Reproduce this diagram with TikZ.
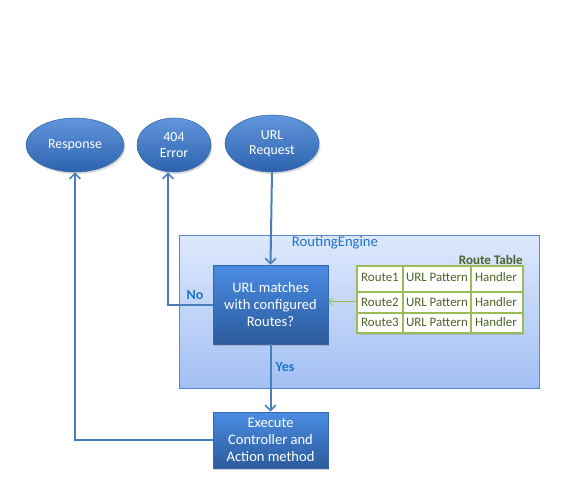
\documentclass[tikz,border=0pt]{standalone}
\usepackage{fontspec}
\setmainfont{Carlito}
\usetikzlibrary{arrows.meta,shadows,shapes.geometric}
\definecolor{linkblue}{HTML}{4A7EBB}
\definecolor{elltop}{HTML}{6196DD}
\definecolor{ellbot}{HTML}{2D62AE}
\definecolor{elledge}{HTML}{3767AA}
\definecolor{boxtop}{HTML}{4B8CE4}
\definecolor{boxbot}{HTML}{2B5B9C}
\definecolor{contop}{HTML}{DDE8FC}
\definecolor{conbot}{HTML}{A3C0F4}
\definecolor{conedge}{HTML}{5B87CF}
\definecolor{tgreen}{HTML}{9BBB59}
\definecolor{olive}{HTML}{4F6228}
\definecolor{lblblue}{HTML}{1F74C6}
\begin{document}
\begin{tikzpicture}[x=0.75pt,y=-0.75pt,
  ell/.style={ellipse, draw=elledge, line width=0.4pt, top color=elltop, bottom color=ellbot,
    text=white, align=center, inner sep=0pt, font=\fontsize{10.4}{11.4}\selectfont,
    drop shadow={opacity=0.3, shadow xshift=1pt, shadow yshift=-1.5pt}},
  procbox/.style={rectangle, draw=elledge, line width=0.4pt, top color=boxtop, bottom color=boxbot,
    text=white, align=center, inner sep=0pt, font=\fontsize{10.9}{12.75}\selectfont,
    drop shadow={opacity=0.35, shadow xshift=1pt, shadow yshift=-1.5pt}},
  container/.style={rectangle, draw=conedge, line width=0.6pt, top color=contop, bottom color=conbot, inner sep=0pt},
  tablebox/.style={rectangle, draw=tgreen, line width=0.8pt, fill=white, inner sep=0pt,
    drop shadow={opacity=0.3, shadow xshift=1pt, shadow yshift=-1.2pt}},
  tline/.style={draw=tgreen, line width=0.8pt},
  cell/.style={text=olive, font=\fontsize{9.7}{11}\selectfont, inner sep=0pt},
  conn/.style={draw=linkblue, line width=1.5pt, -{Straight Barb[length=4pt,width=8pt,line width=1.2pt]}},
  gconn/.style={draw=tgreen, line width=0.6pt, -{Straight Barb[length=3pt,width=6pt,line width=0.6pt]}},
  lbl/.style={text=lblblue, font=\fontsize{10.5}{12}\bfseries\selectfont, inner sep=0pt}
]
\useasboundingbox (0,0) rectangle (572,479);

% container
\node[container, minimum width=360*0.75pt, minimum height=153*0.75pt] (eng) at (359,311.5) {};
\node[text=lblblue, font=\fontsize{11}{13}\selectfont, inner sep=0pt] (engl) at (335,243) {RoutingEngine};

% ellipses
\node[ell, minimum width=98*0.75pt, minimum height=54*0.75pt] (resp) at (75,145) {Response};
\node[ell, minimum width=74*0.75pt, minimum height=54*0.75pt] (err) at (174,145) {404\\Error};
\node[ell, minimum width=94*0.75pt, minimum height=57*0.75pt] (req) at (272,143.5) {URL\\Request};

% process boxes
\node[procbox, minimum width=115*0.75pt, minimum height=79*0.75pt] (match) at (270.5,304.5) {URL matches\\with configured\\Routes?};
\node[procbox, minimum width=115*0.75pt, minimum height=56*0.75pt] (exec) at (270.5,440) {Execute\\Controller and\\Action method};

% route table
\node[tablebox, minimum width=166*0.75pt, minimum height=67*0.75pt] (tbl) at (440,299.5) {};
\draw[tline] (357,292) -- (523,292);
\draw[tline] (357,313) -- (523,313);
\draw[tline] (403,266) -- (403,333);
\draw[tline] (471,266) -- (471,333);
\node[text=olive, font=\fontsize{9.8}{11}\bfseries\selectfont, inner sep=0pt, anchor=east] (tblt) at (523,259.5) {Route Table};
\node[cell] (r1a) at (380,277.5) {Route1};
\node[cell] (r1b) at (437,277.5) {URL Pattern};
\node[cell] (r1c) at (496,277.5) {Handler};
\node[cell] (r2a) at (380,302) {Route2};
\node[cell] (r2b) at (437,302) {URL Pattern};
\node[cell] (r2c) at (496,302) {Handler};
\node[cell] (r3a) at (380,322) {Route3};
\node[cell] (r3b) at (437,322) {URL Pattern};
\node[cell] (r3c) at (496,322) {Handler};

% connectors
\draw[conn] (req.south) -- (match.north);
\draw[conn] (match.west) -| ([xshift=-4.5pt]err.south);
\draw[conn] (match.south) -- (exec.north);
\draw[conn] (exec.west) -| (resp.south);
\draw[gconn] ([yshift=-1.5pt]tbl.west) -- ([yshift=-1.5pt]match.east |- tbl.west);

% labels
\node[lbl] (nol) at (195,295) {No};
\node[lbl] (yesl) at (285,367) {Yes};
\end{tikzpicture}
\end{document}
